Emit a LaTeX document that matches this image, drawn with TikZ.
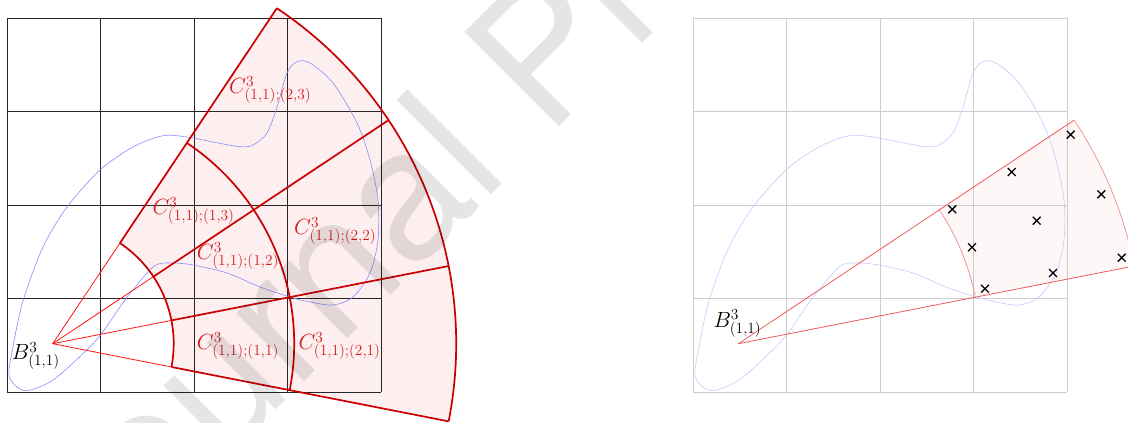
\RequirePackage{fix-cm}
\documentclass[tikz,border=0pt]{standalone}
\usepackage{fontspec}
\newfontfamily\wmfont{TeX Gyre Heros}
\usetikzlibrary{calc,shapes.misc}
\definecolor{lblred}{RGB}{210,30,30}
\definecolor{thickred}{RGB}{200,0,0}
\definecolor{thinred}{RGB}{255,20,20}
\definecolor{fillL}{RGB}{253,239,239}
\definecolor{fillR}{RGB}{254,247,247}
\definecolor{rayR}{RGB}{240,90,90}
\definecolor{arcR}{RGB}{240,140,140}
\definecolor{gridR}{RGB}{205,205,205}
\definecolor{blueL}{RGB}{140,140,255}
\definecolor{blueR}{RGB}{200,200,255}
\newcommand\blobpath{plot[smooth cycle, tension=0.5] coordinates {
(9.3,46.3) (13,76.3) (23.3,123) (43,176) (67,216) (100,253) (133,276)
(163,287.3) (187,286) (213,281) (240,276.3) (253,278) (267,290) (277,316)
(287,350) (297,361.3) (310,360) (333,340) (357,300) (370,263) (378,223)
(378,183) (370,150) (353,126) (333,118) (310,121) (290,126) (260,136)
(227,150) (193,158) (170,160) (153,156) (125,123) (103,91.3) (86.7,73)
(53,43) (25,32.3)}}
\def\ra{121}
\def\rb{241.5}
\def\rc{403.5}
\def\aA{-11.1}
\def\aB{11.1}
\def\aC{33.65}
\def\aD{56.25}
\begin{document}
\begin{tikzpicture}[x=1pt,y=1pt,
  gridline/.style={draw=black!85, line width=0.8pt},
  gridlight/.style={draw=gridR, line width=0.9pt},
  thinray/.style={draw=thinred, line width=0.8pt},
  thickline/.style={draw=thickred, line width=1.7pt},
  rayline/.style={draw=rayR, line width=0.8pt},
  arcline/.style={draw=arcR, line width=0.7pt},
  lbl/.style={text=lblred, anchor=base west, inner sep=0pt, font=\fontsize{22}{26}\selectfont},
  blbl/.style={text=black, anchor=base west, inner sep=0pt, font=\fontsize{22}{26}\selectfont},
  xmark/.style={cross out, draw=black, line width=1.3pt, minimum size=6.5pt, inner sep=0pt}]
\useasboundingbox (0,0) rectangle (1128,423);
\clip (0,0) rectangle (1128,423);
\fill[white] (0,0) rectangle (1128,423);
\coordinate (L) at (52.7,79.3);
\coordinate (R) at (738.3,79.3);
% ---------- left panel ----------
\fill[fillL] ([shift={(L)}]\aA:\ra) arc[start angle=\aA, end angle=\aD, radius=\ra]
  -- ([shift={(L)}]\aD:\rc) arc[start angle=\aD, end angle=\aA, radius=\rc] -- cycle;
\foreach \i in {0,...,4} {
  \draw[gridline] ({7+93.5*\i},31) -- ({7+93.5*\i},405);
  \draw[gridline] (7,{31+93.5*\i}) -- (381,{31+93.5*\i});
}
\draw[draw=blueL, line width=0.6pt] \blobpath;
\foreach \a in {\aA,\aB,\aC,\aD} {
  \draw[thinray] (L) -- ([shift={(L)}]\a:\ra);
  \draw[thickline] ([shift={(L)}]\a:\ra) -- ([shift={(L)}]\a:\rc);
}
\foreach \r in {\ra,\rb,\rc}
  \draw[thickline] ([shift={(L)}]\aA:\r) arc[start angle=\aA, end angle=\aD, radius=\r];
\node[lbl] (c11) at (196.7,73) {$C^3_{(1,1);(1,1)}$};
\node[lbl] (c21) at (298.3,73) {$C^3_{(1,1);(2,1)}$};
\node[lbl] (c12) at (196.7,163) {$C^3_{(1,1);(1,2)}$};
\node[lbl] (c22) at (294,188) {$C^3_{(1,1);(2,2)}$};
\node[lbl] (c13) at (152.3,208) {$C^3_{(1,1);(1,3)}$};
\node[lbl] (c23) at (229,329) {$C^3_{(1,1);(2,3)}$};
\node[blbl] (bL) at (11.7,63) {$B^3_{(1,1)}$};
% ---------- right panel ----------
\fill[fillR] ([shift={(R)}]\aB:\rb) arc[start angle=\aB, end angle=\aC, radius=\rb]
  -- ([shift={(R)}]\aC:\rc) arc[start angle=\aC, end angle=\aB, radius=\rc] -- cycle;
\foreach \i in {0,...,4} {
  \draw[gridlight] ({693.3+93.5*\i},31) -- ({693.3+93.5*\i},405);
  \draw[gridlight] (693.3,{31+93.5*\i}) -- (1067.3,{31+93.5*\i});
}
\begin{scope}[shift={(686,0)}]
\draw[draw=blueR, line width=0.6pt] \blobpath;
\end{scope}
\draw[rayline] (R) -- ([shift={(R)}]\aB:\rc);
\draw[rayline] (R) -- ([shift={(R)}]\aC:\rc);
\draw[arcline] ([shift={(R)}]\aB:\rb) arc[start angle=\aB, end angle=\aC, radius=\rb];
\draw[arcline] ([shift={(R)}]\aB:\rc) arc[start angle=\aB, end angle=\aC, radius=\rc];
\node[xmark] (p1) at (1070.7,288.3) {};
\node[xmark] (p2) at (1011.7,251) {};
\node[xmark] (p3) at (952.3,213.7) {};
\node[xmark] (p4) at (1036.7,202.3) {};
\node[xmark] (p5) at (1101.3,228.7) {};
\node[xmark] (p6) at (972,175.7) {};
\node[xmark] (p7) at (1053,150) {};
\node[xmark] (p8) at (1121.7,165.3) {};
\node[xmark] (p9) at (985,134.3) {};
\node[blbl] (bR) at (713.3,95.3) {$B^3_{(1,1)}$};
% ---------- watermark ----------
\node[rotate=45, anchor=base west, inner sep=0pt, text=black, opacity=0.1,
  font=\wmfont\fontsize{183}{200}\selectfont] (wm) at (87,-176) {Journal Pre-proof};
\end{tikzpicture}
\end{document}
